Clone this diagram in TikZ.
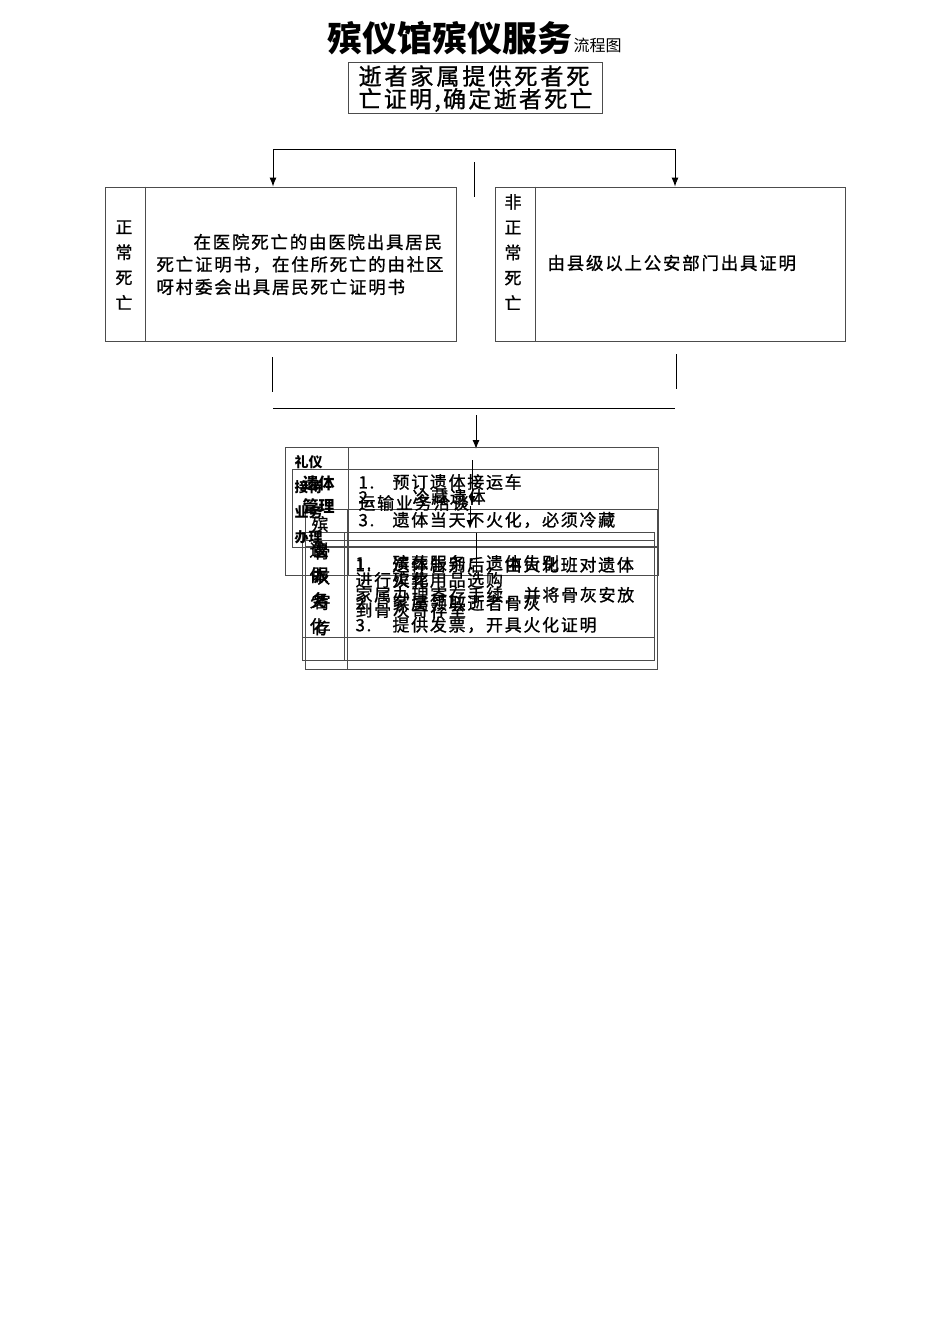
\documentclass[tikz,border=0pt]{standalone}
\usepackage{fontspec}
\setmainfont{Noto Sans CJK SC}
\newfontfamily\songti{Noto Sans CJK SC}[LetterSpace=10, FakeBold=1]
\newfontfamily\songtiwide{Noto Sans CJK SC}[LetterSpace=13, FakeBold=1]
\usetikzlibrary{arrows.meta, positioning}

\begin{document}
\begin{tikzpicture}[
		x=1pt, y=-1pt,
		line width=1pt,
		every node/.style={inner sep=0pt, text=black},
		flow/.style={-{Latex[length=9pt,width=7pt]}},
		tbl/.style={draw=black!70, line width=0.8pt},
		box/.style={draw=black!70, line width=0.8pt, minimum width=351pt, minimum height=154pt},
		line text/.style={anchor=west, font=\songti\fontsize{17.5}{17.5}\selectfont},
		item/.style={anchor=west, font=\songti\fontsize{17}{17}\selectfont},
		side/.style={align=center, font=\songti\fontsize{17}{25.3}\selectfont},
		tag/.style={anchor=west, align=left, font=\bfseries\fontsize{14}{25}\selectfont}
		]
	\useasboundingbox (0,0) rectangle (950,1344);

	% Title
	\node[font=\bfseries\fontsize{35}{35}\selectfont] (title) at (450,38) {殡仪馆殡仪服务};
	\node[anchor=base west, font=\fontsize{16}{16}\selectfont] (titlesub) at (title.base east) {流程图};

	% Start
	\node[draw=black!70, line width=0.8pt, minimum width=254pt, minimum height=51pt] (notice) at (475,87.5) {};
	\node[anchor=west, font=\songtiwide\fontsize{23}{23}\selectfont] (notice1) at (358,76) {逝者家属提供死者死};
	\node[anchor=west, font=\songti\fontsize{23}{23}\selectfont] (notice2) at (358,100) {亡证明,确定逝者死亡};

	% Two kinds of death
	\node[box] (normal) at (280.5,264) {};
	\node[box, minimum width=350pt] (abnormal) at (670,264) {};
	\draw[tbl] ([xshift=41pt]normal.north west) -- ([xshift=41pt]normal.south west);
	\draw[tbl] ([xshift=41pt]abnormal.north west) -- ([xshift=41pt]abnormal.south west);
	\node[side] (normallabel) at (124,265) {正\\常\\死\\亡};
	\node[side] (abnormallabel) at (513,252) {非\\正\\常\\死\\亡};
	\foreach \x/\y/\txt in {193/242/在医院死亡的由医院出具居民, 156/264.5/死亡证明书，在住所死亡的由社区, 156/287/呀村委会出具居民死亡证明书}{
		\node[line text] at (\x,\y) {\txt};
	}
	\node[line text] (abnormaltext) at (547,263) {由县级以上公安部门出具证明};

	% Branch
	\coordinate (splitL) at (273,149);
	\coordinate (splitR) at (675,149);
	\draw (splitL) -- (splitR);
	\draw[flow] (splitL) -- (splitL |- normal.north);
	\draw[flow] (splitR) -- (splitR |- abnormal.north);
	\coordinate (gapT) at (474,162);
	\coordinate (gapB) at (474,197);
	\draw (gapT) -- (gapB);

	% Merge
	\coordinate (legLT) at (272,357);
	\coordinate (legLB) at (272,392);
	\coordinate (legRT) at (676,354);
	\coordinate (legRB) at (676,389);
	\draw (legLT) -- (legLB);
	\draw (legRT) -- (legRB);
	\coordinate (mergeL) at (273,408);
	\coordinate (mergeR) at (675,408);
	\draw (mergeL) -- (mergeR);
	\coordinate (downT) at (476,415);
	\coordinate (tblTop) at (476,449);
	\draw[flow] (downT) -- (tblTop);

	% Service tables
	\draw[tbl] (285,447) rectangle (658,575);
	\draw[tbl] (348,447) -- (348,575);
	\draw[tbl] (292,469) rectangle (658,547);
	\draw[tbl] (305,509) rectangle (657,669);
	\draw[tbl] (347,509) -- (347,669);
	\draw[tbl] (305,546) -- (657,546);
	\draw[tbl] (302,532) rectangle (654,660);
	\draw[tbl] (344,532) -- (344,660);
	\draw[tbl] (302,540) -- (654,540);
	\draw[tbl] (302,637) -- (654,637);

	\node[tag] (etiquette) at (294,499.5) {礼仪\\接待\\业务\\办理};
	\node[tag, font=\bfseries\fontsize{16}{23}\selectfont] (bodycare) at (302,494.5) {遗体\\管理};
	\node[side] (funeral) at (320,562) {殡\\仪\\服\\务};
	\node[side] (cremation) at (318,588) {遗\\体\\火\\化};
	\node[side] (ashes) at (322,590) {骨\\灰\\寄\\存};

	\foreach \x/\y/\txt in {358/503/运输业务洽谈,
			358/482/\makebox[34pt][l]{1.}预订遗体接运车,
			358/497/\makebox[54pt][l]{2.}冷藏遗体,
			358/520/\makebox[34pt][l]{3.}遗体当天不火化，必须冷藏,
			355/563/\makebox[37pt][l]{1.}殡葬服务：遗体告别,
			392/580/殡葬用品选购,
			355/565/\makebox[37pt][l]{1.}遗体告别后，由火化班对遗体,
			355/580/进行火化,
			355/603/\makebox[37pt][l]{2.}家属领取逝者骨灰,
			355/625/\makebox[37pt][l]{3.}提供发票，开具火化证明,
			355/595/家属办理寄存手续，并将骨灰安放,
			355/610/到骨灰寄存室}{
		\node[item] at (\x,\y) {\txt};
	}

	% Arrows inside the tables
	\coordinate (innerA) at (472,460);
	\coordinate (innerB) at (472,505);
	\coordinate (innerC) at (470,506);
	\coordinate (innerD) at (470,529);
	\coordinate (innerE) at (476,533);
	\coordinate (innerF) at (476,573);
	\draw[flow] (innerA) -- (innerB);
	\draw[flow] (innerC) -- (innerD);
	\draw (innerE) -- (innerF);

\end{tikzpicture}
\end{document}
